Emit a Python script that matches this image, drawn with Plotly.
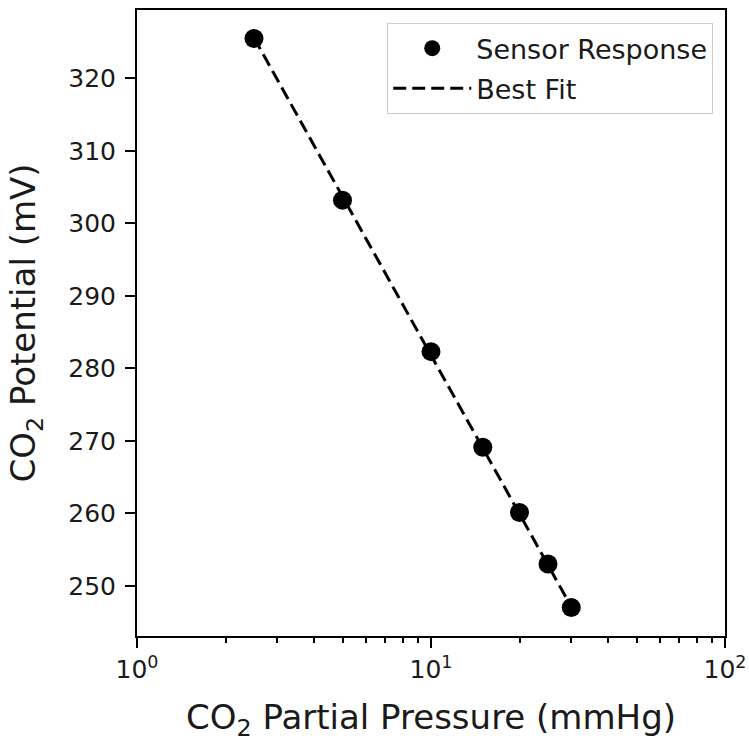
import plotly.graph_objects as go

# Data
pressure = [2.5, 5, 10, 15, 20, 25, 30]            # mmHg
potential = [325.5, 303.2, 282.3, 269.1, 260.1, 253.0, 247.0]  # mV
fit_x = [2.5, 30]
fit_y = [325.6, 247.1]

x_major = [1, 10, 100]
x_major_text = ["10<sup>0</sup>", "10<sup>1</sup>", "10<sup>2</sup>"]
x_minor = [2, 3, 4, 5, 6, 7, 8, 9, 20, 30, 40, 50, 60, 70, 80, 90]
y_ticks = [250, 260, 270, 280, 290, 300, 310, 320]

FONT = "DejaVu Sans"
TXT = "#1a1a1a"

fig = go.Figure()
fig.add_trace(go.Scatter(
    x=pressure, y=potential, mode="markers", name="Sensor Response",
    legendgroup="a",
    marker=dict(color="black", size=19, symbol="circle"),
))
fig.add_trace(go.Scatter(
    x=fit_x, y=fit_y, mode="lines", name="Best Fit",
    legendgroup="b",
    line=dict(color="black", width=3, dash="13px,6px"),
))

fig.update_layout(
    width=749, height=745,
    margin=dict(l=137, r=24, t=10, b=109, autoexpand=False),
    paper_bgcolor="white", plot_bgcolor="white",
    font=dict(family=FONT, color=TXT, size=25),
    showlegend=True,
    legend=dict(
        x=0.98, y=0.979, xanchor="right", yanchor="top",
        bgcolor="rgba(255,255,255,0.8)", bordercolor="#cccccc", borderwidth=1,
        font=dict(family=FONT, size=27, color=TXT),
        itemwidth=78, tracegroupgap=2,
    ),
)

fig.update_xaxes(
    type="log", range=[0, 2], automargin=False,
    tickvals=x_major, ticktext=x_major_text,
    ticks="outside", ticklen=10, tickwidth=2, tickcolor="black",
    minor=dict(tickvals=x_minor, ticks="outside", ticklen=5, tickwidth=1.5, tickcolor="black", showgrid=False),
    showline=True, mirror=True, linecolor="black", linewidth=2,
    showgrid=False, zeroline=False,
    tickfont=dict(family=FONT, size=25, color=TXT),
    title=dict(text="CO<sub>2</sub> Partial Pressure (mmHg)", font=dict(family=FONT, size=34, color=TXT), standoff=22),
)
fig.update_yaxes(
    range=[243.07, 329.43], automargin=False,
    tickvals=y_ticks,
    ticks="outside", ticklen=10, tickwidth=2, tickcolor="black",
    ticklabelstandoff=4,
    showline=True, mirror=True, linecolor="black", linewidth=2,
    showgrid=False, zeroline=False,
    tickfont=dict(family=FONT, size=25, color=TXT),
    title=dict(text="CO<sub>2</sub> Potential (mV)", font=dict(family=FONT, size=34, color=TXT), standoff=22),
)

fig.write_html("out.html", config={"displayModeBar": False},
               post_script="document.body.style.margin='0px';")
